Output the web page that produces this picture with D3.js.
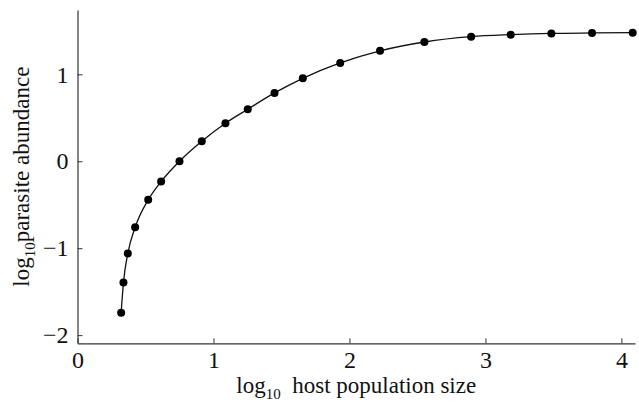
<!DOCTYPE html>
<html><head><meta charset="utf-8">
<script src="https://cdn.jsdelivr.net/npm/d3@7"></script>
<style>body{margin:0;background:#fff}svg{display:block}
text{font-family:'Liberation Serif','DejaVu Serif',serif}</style>
</head><body>
<svg id="c" width="639" height="409"></svg>
<script>
const hostLogSize = [0.321,0.338,0.370,0.424,0.520,0.615,0.750,0.914,1.088,1.252,1.449,1.657,1.932,2.225,2.551,2.895,3.186,3.485,3.784,4.083];
const parasiteLogAbundance = [-1.743,-1.395,-1.061,-0.760,-0.444,-0.234,0.0,0.230,0.437,0.598,0.786,0.954,1.131,1.270,1.372,1.433,1.456,1.471,1.476,1.479];
const xTicks = [0,1,2,3,4];
const yTicks = [-2,-1,0,1];

const svg = d3.select("#c");
const font = "'Liberation Serif','DejaVu Serif',serif";
const x = d3.scaleLinear().domain([0,4.1]).range([77.5,635]);
const y = d3.scaleLinear().domain([-2.094,1.74]).range([343.3,10]);

const data = hostLogSize.map((v,i)=>({x:v,y:parasiteLogAbundance[i]}));

const gx = svg.append("g").attr("transform",`translate(0,${y.range()[0]})`)
  .call(d3.axisBottom(x).tickValues(xTicks).tickFormat(d3.format("d")).tickSizeInner(-5).tickSizeOuter(0).tickPadding(8));
const gy = svg.append("g").attr("transform",`translate(${x.range()[0]},0)`)
  .call(d3.axisLeft(y).tickValues(yTicks).tickFormat(d=>d<0?"\u2212"+Math.abs(d):d).tickSizeInner(-5).tickSizeOuter(0).tickPadding(9));
[gx,gy].forEach(g=>{
  g.attr("font-family",null).attr("font-size",null);
  g.select(".domain").attr("stroke","#333").attr("stroke-width",1.2);
  g.selectAll(".tick line").attr("stroke","#333").attr("stroke-width",1);
  g.selectAll("text").style("font-family",font).style("font-size","24px").attr("fill","#111");
});

const line = d3.line().x(d=>x(d.x)).y(d=>y(d.y)).curve(d3.curveMonotoneX);
svg.append("path").datum(data).attr("d",line).attr("fill","none").attr("stroke","#111").attr("stroke-width",1.3);
svg.selectAll("circle.pt").data(data).enter().append("circle").attr("class","pt")
  .attr("cx",d=>x(d.x)).attr("cy",d=>y(d.y)).attr("r",4).attr("fill","#000");

// x label
const xl = svg.append("text").attr("x",(x.range()[0]+x.range()[1])/2).attr("y",393)
  .attr("text-anchor","middle").style("font-family",font).style("font-size","23px").attr("fill","#111");
xl.append("tspan").text("log");
xl.append("tspan").text("10").style("font-size","15px").attr("dy",6);
xl.append("tspan").text("\u00a0 host population size").attr("dy",-6);

// y label
const yl = svg.append("text").attr("transform",`translate(29,${(y.range()[0]+y.range()[1])/2}) rotate(-90)`)
  .attr("text-anchor","middle").style("font-family",font).style("font-size","23px").attr("fill","#111");
yl.append("tspan").text("log");
yl.append("tspan").text("10").style("font-size","15px").attr("dy",6);
yl.append("tspan").text("parasite abundance").attr("dy",-6);
</script>
</body></html>
